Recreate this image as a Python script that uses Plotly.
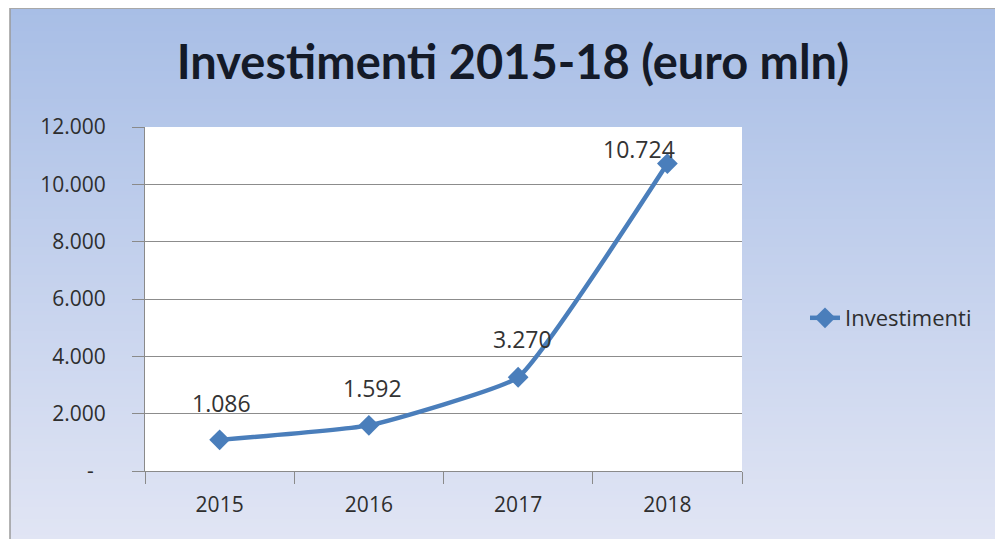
import plotly.graph_objects as go

# ---- data ----
years = ["2015", "2016", "2017", "2018"]
investimenti = [1086, 1592, 3270, 10724]
value_labels = ["1.086", "1.592", "3.270", "10.724"]
y_tickvals = [0, 2000, 4000, 6000, 8000, 10000, 12000]
y_ticktext = ["-\u2007", "2.000", "4.000", "6.000", "8.000", "10.000", "12.000"]

# ---- layout geometry ----
# the page body has an 8px margin, so the figure starts at (8, 8) in the window
OFF = 8
W, H = 1003 - OFF, 539 - OFF
PL, PR, PT, PB = 145, 742, 127, 471          # plot area in window pixels
L, R, T, B = PL - OFF, W - (PR - OFF), PT - OFF, H - (PB - OFF)
PW = W - L - R
PH = H - T - B


def px(xw):
    return (xw - OFF - L) / PW


def py(yw):
    return (H - B - (yw - OFF)) / PH


def lerp(c1, c2, t):
    return "rgb({},{},{})".format(*[round(a + (b - a) * t) for a, b in zip(c1, c2)])


top_c = (168, 190, 230)
bot_c = (225, 229, 244)

shapes = []
y0 = 7
step = 4
yy = y0
while yy < 539:
    t = (yy - y0) / (539 - y0)
    shapes.append(dict(type="rect", xref="paper", yref="paper",
                       x0=px(10), x1=px(1010), y0=py(max(yy, OFF - 2)), y1=py(min(yy + step + 1, 545)),
                       fillcolor=lerp(top_c, bot_c, t), line=dict(width=0), layer="below"))
    yy += step
# white plot area
shapes.append(dict(type="rect", xref="x domain", yref="y domain", x0=0, x1=1, y0=0, y1=1,
                   fillcolor="white", line=dict(width=0), layer="below"))
# chart frame border
shapes.append(dict(type="line", xref="paper", yref="paper", x0=px(10), x1=px(10),
                   y0=py(8), y1=py(545), line=dict(color="#9a9a9a", width=1.5)))
shapes.append(dict(type="line", xref="paper", yref="paper", x0=px(10), x1=px(1010),
                   y0=py(8.5), y1=py(8.5), line=dict(color="#a8a8a8", width=1)))

fig = go.Figure()
fig.add_trace(go.Scatter(
    x=years, y=investimenti, name="Investimenti", mode="lines+markers",
    line=dict(color="#4a7ebb", width=4.5, shape="spline", smoothing=0.35),
    marker=dict(symbol="diamond", size=16, color="#4a7ebb"),
    hoverinfo="x+y",
))

label_dx = [2, 4, 4, -28]
label_dy = [37, 37, 38, 15]
annotations = []
for i, (yv, txt, dx, dy) in enumerate(zip(investimenti, value_labels, label_dx, label_dy)):
    annotations.append(dict(x=i, y=yv, xref="x", yref="y", text=txt, showarrow=False,
                            xshift=dx, yshift=dy,
                            font=dict(family="Open Sans", size=23, color="#333333")))

tick_font = dict(family="Open Sans", size=21, color="#2e2e2e")

fig.update_layout(
    width=W, height=H,
    margin=dict(l=L, r=R, t=T, b=B, pad=0, autoexpand=False),
    paper_bgcolor="white",
    plot_bgcolor="white",
    shapes=shapes,
    annotations=annotations,
    title=dict(text="Investimenti 2015-18 (euro mln)", xref="container", yref="container",
               x=(513 - OFF) / W, y=1 - (63 - OFF) / H, xanchor="center", yanchor="middle",
               font=dict(family="Lato", size=47, color="#141a28", weight="bold")),
    showlegend=True,
    legend=dict(x=px(805), y=py(318), xanchor="left", yanchor="middle",
                bgcolor="rgba(0,0,0,0)", font=dict(family="Open Sans", size=22, color="#2e2e2e")),
    xaxis=dict(type="category", range=[-0.5, len(years) - 0.5], tickson="boundaries",
               ticks="outside", ticklen=12, automargin=False,
               tickcolor="#8a8a8a", showline=True, linecolor="#8a8a8a", linewidth=1,
               showgrid=False, ticklabelstandoff=15, tickangle=0,
               tickfont=tick_font),
    yaxis=dict(range=[0, 12000], tickvals=y_tickvals, ticktext=y_ticktext,
               ticks="outside", ticklen=12, tickcolor="#8a8a8a", automargin=False,
               showline=True, linecolor="#8a8a8a", linewidth=1,
               showgrid=True, gridcolor="#8c8c8c", gridwidth=1, zeroline=False,
               ticklabelstandoff=22,
               tickfont=tick_font),
)

fig.write_html("out.html")
